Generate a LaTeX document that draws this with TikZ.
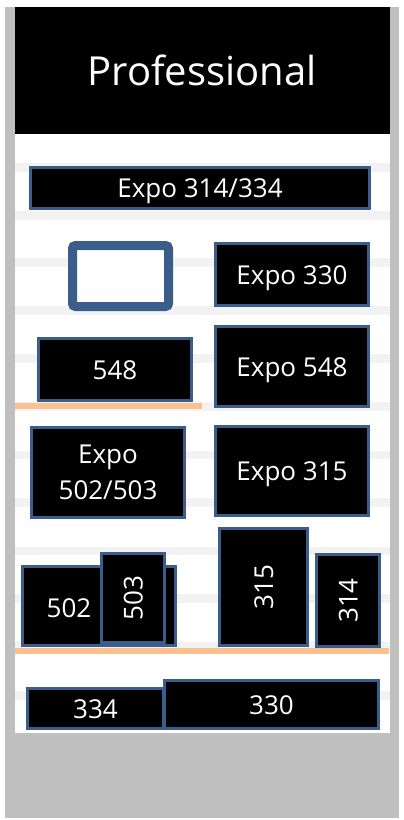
\documentclass[tikz,border=0pt]{standalone}
\usepackage{fontspec}
\setmainfont{Open Sans}
\usepackage{tikz}
\definecolor{boothblue}{RGB}{59,93,138}
\definecolor{wallgray}{RGB}{191,191,191}
\definecolor{stripe}{RGB}{242,242,242}
\definecolor{rail}{RGB}{250,192,144}

\begin{document}
\begin{tikzpicture}[x=1pt,y=-1pt,
  booth/.style={draw=boothblue, line width=2.6pt, fill=black, text=white,
    inner sep=0pt, outer sep=0pt, font=\fontsize{26}{36}\selectfont},
  oneline/.style={booth, text height=19pt, text depth=0pt},
  tag/.style={text=white, inner sep=0pt, font=\fontsize{26}{36}\selectfont,
    text height=19pt, text depth=0pt}]
\useasboundingbox (0,0) rectangle (404,820);
\fill[white] (0,0) rectangle (404,820);
% floor outline
\fill[wallgray] (5,7) rectangle (399,818);
\fill[white] (15,134) rectangle (390,733);
\fill[black] (15,7) rectangle (390,134);
\node[anchor=base, text=white, font=\fontsize{40}{48}\selectfont] (title) at (202,85) {Professional};
% shelf stripes
\fill[stripe] (15,163) rectangle (390,172);
\fill[stripe] (15,211) rectangle (390,220);
\fill[stripe] (15,258) rectangle (390,267);
\fill[stripe] (15,306) rectangle (390,315);
\fill[stripe] (15,354) rectangle (390,363);
\fill[stripe] (15,402) rectangle (390,411);
\fill[stripe] (15,451) rectangle (390,459);
\fill[stripe] (15,498) rectangle (390,507);
\fill[stripe] (15,547) rectangle (390,555);
\fill[stripe] (15,594) rectangle (390,603);
\fill[stripe] (15,642) rectangle (390,651);
\fill[stripe] (15,691) rectangle (390,700);
% rails
\fill[rail] (15,403) rectangle (202,409);
\fill[rail] (15,648) rectangle (389,654);
% booths
\node[oneline, minimum width=339pt, minimum height=41pt] (e314) at (200,188) {Expo 314/334};
\draw[boothblue, line width=9pt, rounded corners=3pt, fill=white] (72.5,245.5) rectangle (168.5,306.5);
\node[oneline, minimum width=153pt, minimum height=62pt] (e330) at (292,274.5) {Expo 330};
\node[oneline, minimum width=153pt, minimum height=62pt] (b548) at (115,369.5) {548};
\node[oneline, minimum width=153pt, minimum height=80pt] (e548) at (292,366.5) {Expo 548};
\node[booth, align=center, minimum width=153pt, minimum height=90pt] (e502) at (108,472.5) {Expo\\502/503};
\node[oneline, minimum width=153pt, minimum height=89pt] (e315) at (292,471) {Expo 315};
\node[booth, minimum width=153pt, minimum height=79pt] (b502) at (99,606) {};
\node[tag] (t502) at (69,607.5) {502};
\node[oneline, rotate=90, minimum width=89pt, minimum height=63pt] (b503) at (133,598) {503};
\node[oneline, rotate=90, minimum width=117pt, minimum height=88pt] (b315) at (263.5,587) {315};
\node[oneline, rotate=90, minimum width=92pt, minimum height=63pt] (b314) at (348,600.5) {314};
\node[oneline, minimum width=136pt, minimum height=40pt] (b334) at (95.5,708.5) {334};
\node[oneline, minimum width=214pt, minimum height=48pt] (b330) at (271.5,704.5) {330};
\end{tikzpicture}
\end{document}
